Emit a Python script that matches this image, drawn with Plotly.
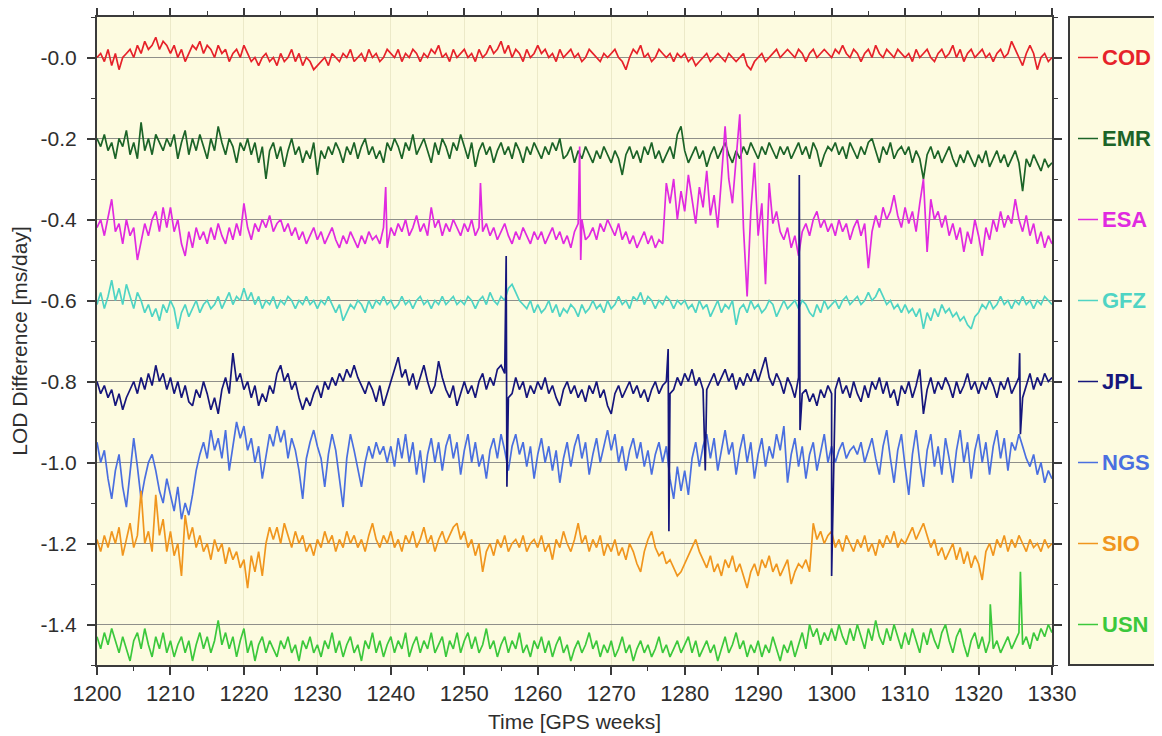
import numpy as np
import plotly.graph_objects as go

# ---------------- data ----------------
centers = ["COD", "EMR", "ESA", "GFZ", "JPL", "NGS", "SIO", "USN"]
levels = [0.0, -0.2, -0.4, -0.6, -0.8, -1.0, -1.2, -1.4]   # nominal level of each series (legend rows)
colors = ["#e6222a", "#1c6428", "#e02ae0", "#4fd4c4", "#16167c", "#4a6fe0", "#f0961e", "#3cc83c"]

start_week = 1200.0
step_week = 0.5
x_ticks = [1200, 1210, 1220, 1230, 1240, 1250, 1260, 1270, 1280, 1290, 1300, 1310, 1320, 1330]
y_ticks = [0.0, -0.2, -0.4, -0.6, -0.8, -1.0, -1.2, -1.4]
y_ticktext = ["-0.0", "-0.2", "-0.4", "-0.6", "-0.8", "-1.0", "-1.2", "-1.4"]
y_minor = [0.1, -0.1, -0.3, -0.5, -0.7, -0.9, -1.1, -1.3, -1.5]

cod = [
    0.00, 0.01, -0.01, 0.02, -0.02, 0.01, -0.03, 0.00, 0.01, 0.02, 0.00, 0.03, 0.01, 0.04, 0.02, 0.03, 0.05, 0.02, 0.04, 0.03,
    0.01, 0.03, 0.00, 0.02, -0.01, 0.01, 0.03, 0.02, 0.04, 0.01, 0.03, 0.02, 0.00, 0.03, 0.01, 0.02, -0.01, 0.01, 0.02, 0.00,
    0.03, 0.01, -0.01, 0.00, -0.02, 0.00, 0.01, -0.01, 0.00, -0.02, 0.01, -0.01, 0.00, 0.02, -0.01, 0.01, -0.02, 0.00, -0.01, -0.03,
    -0.02, -0.01, 0.00, -0.02, 0.01, 0.00, -0.01, 0.01, 0.00, 0.02, -0.01, 0.00, 0.01, -0.01, 0.02, 0.00, 0.01, -0.01, 0.00, 0.02,
    0.01, 0.00, 0.02, -0.01, 0.01, 0.00, 0.02, 0.01, -0.01, 0.01, 0.00, 0.02, 0.01, 0.03, 0.00, 0.01, -0.01, 0.02, 0.00, 0.01,
    0.02, 0.00, 0.01, -0.01, 0.02, 0.00, 0.01, 0.03, 0.01, 0.02, 0.04, 0.01, 0.03, 0.00, 0.02, 0.01, -0.01, 0.02, 0.00, 0.01,
    0.03, 0.01, 0.02, 0.00, 0.01, -0.01, 0.02, 0.00, 0.01, 0.02, 0.00, 0.01, -0.01, 0.00, 0.02, 0.01, 0.00, -0.01, 0.01, 0.00,
    0.01, 0.02, 0.00, -0.01, -0.03, 0.00, 0.02, 0.01, 0.03, 0.00, 0.01, -0.01, 0.00, 0.02, 0.01, 0.00, 0.01, -0.01, 0.01, 0.00,
    0.01, -0.01, 0.00, -0.02, -0.01, 0.00, 0.01, -0.01, 0.00, 0.01, 0.00, -0.01, 0.01, 0.00, -0.01, 0.00, 0.01, -0.02, -0.03, -0.01,
    0.00, 0.01, -0.01, 0.00, 0.01, 0.02, 0.00, 0.01, 0.02, 0.01, 0.00, 0.02, 0.01, -0.01, 0.01, 0.02, 0.00, 0.01, 0.02, 0.01,
    0.00, 0.02, 0.01, 0.03, 0.01, 0.00, 0.02, 0.01, -0.01, 0.01, 0.02, 0.00, 0.03, 0.01, 0.00, 0.02, 0.01, 0.00, 0.02, 0.01,
    0.00, 0.01, -0.01, 0.02, 0.00, 0.01, 0.02, 0.00, -0.01, 0.01, 0.02, 0.00, 0.01, 0.03, 0.00, 0.02, -0.01, 0.01, 0.02, 0.00,
    0.01, 0.02, 0.00, 0.01, -0.01, 0.01, 0.02, 0.00, 0.01, 0.04, 0.02, 0.00, -0.02, 0.01, 0.03, 0.01, -0.03, 0.00, 0.01, -0.01,
    0.00,
]

emr = [
    -0.20, -0.22, -0.19, -0.23, -0.21, -0.25, -0.20, -0.22, -0.18, -0.24, -0.21, -0.25, -0.16, -0.23, -0.20, -0.24, -0.19, -0.21, -0.23, -0.20,
    -0.22, -0.19, -0.25, -0.21, -0.18, -0.24, -0.20, -0.23, -0.19, -0.22, -0.25, -0.20, -0.23, -0.17, -0.21, -0.24, -0.20, -0.22, -0.26, -0.21,
    -0.23, -0.20, -0.24, -0.21, -0.26, -0.22, -0.30, -0.23, -0.21, -0.25, -0.22, -0.27, -0.23, -0.20, -0.24, -0.22, -0.26, -0.23, -0.25, -0.21,
    -0.29, -0.23, -0.25, -0.22, -0.24, -0.21, -0.23, -0.26, -0.22, -0.24, -0.21, -0.25, -0.22, -0.20, -0.24, -0.22, -0.25, -0.23, -0.26, -0.21,
    -0.23, -0.20, -0.22, -0.25, -0.21, -0.23, -0.19, -0.24, -0.22, -0.20, -0.23, -0.26, -0.21, -0.24, -0.20, -0.22, -0.25, -0.21, -0.23, -0.19,
    -0.22, -0.25, -0.21, -0.27, -0.23, -0.21, -0.24, -0.22, -0.26, -0.23, -0.21, -0.24, -0.22, -0.25, -0.21, -0.23, -0.26, -0.22, -0.24, -0.21,
    -0.23, -0.25, -0.22, -0.24, -0.21, -0.23, -0.20, -0.25, -0.24, -0.22, -0.26, -0.23, -0.25, -0.22, -0.24, -0.26, -0.23, -0.25, -0.22, -0.24,
    -0.26, -0.23, -0.25, -0.29, -0.24, -0.22, -0.25, -0.23, -0.26, -0.22, -0.24, -0.21, -0.25, -0.23, -0.26, -0.24, -0.22, -0.25, -0.19, -0.17,
    -0.23, -0.26, -0.24, -0.22, -0.25, -0.23, -0.27, -0.24, -0.22, -0.25, -0.23, -0.21, -0.24, -0.26, -0.23, -0.25, -0.22, -0.24, -0.21, -0.23,
    -0.25, -0.22, -0.24, -0.21, -0.23, -0.25, -0.22, -0.24, -0.22, -0.25, -0.23, -0.21, -0.24, -0.22, -0.25, -0.21, -0.23, -0.27, -0.24, -0.22,
    -0.23, -0.21, -0.24, -0.22, -0.25, -0.21, -0.23, -0.25, -0.22, -0.24, -0.21, -0.20, -0.23, -0.26, -0.22, -0.24, -0.21, -0.25, -0.23, -0.22,
    -0.24, -0.22, -0.26, -0.23, -0.25, -0.30, -0.24, -0.22, -0.25, -0.23, -0.26, -0.24, -0.22, -0.25, -0.27, -0.24, -0.26, -0.23, -0.25, -0.27,
    -0.24, -0.26, -0.23, -0.27, -0.25, -0.23, -0.26, -0.24, -0.27, -0.25, -0.23, -0.26, -0.33, -0.25, -0.27, -0.24, -0.26, -0.28, -0.25, -0.27,
    -0.26,
]

esa = [
    -0.42, -0.40, -0.44, -0.39, -0.35, -0.43, -0.41, -0.46, -0.40, -0.44, -0.42, -0.50, -0.45, -0.41, -0.44, -0.40, -0.38, -0.43, -0.37, -0.42,
    -0.37, -0.43, -0.40, -0.46, -0.49, -0.43, -0.47, -0.42, -0.45, -0.43, -0.46, -0.42, -0.45, -0.41, -0.44, -0.46, -0.42, -0.45, -0.41, -0.44,
    -0.36, -0.42, -0.45, -0.41, -0.43, -0.40, -0.42, -0.39, -0.43, -0.41, -0.40, -0.43, -0.41, -0.44, -0.42, -0.45, -0.43, -0.46, -0.44, -0.42,
    -0.45, -0.43, -0.46, -0.44, -0.42, -0.45, -0.47, -0.44, -0.46, -0.43, -0.45, -0.47, -0.44, -0.46, -0.43, -0.45, -0.44, -0.46, -0.42, -0.47,
    -0.42, -0.44, -0.41, -0.43, -0.40, -0.44, -0.42, -0.39, -0.43, -0.41, -0.44, -0.37, -0.42, -0.40, -0.44, -0.41, -0.43, -0.40, -0.42, -0.44,
    -0.41, -0.43, -0.40, -0.44, -0.42, -0.43, -0.41, -0.44, -0.42, -0.45, -0.43, -0.41, -0.44, -0.46, -0.43, -0.45, -0.42, -0.44, -0.46, -0.43,
    -0.45, -0.43, -0.46, -0.44, -0.42, -0.45, -0.43, -0.46, -0.44, -0.47, -0.43, -0.41, -0.40, -0.45, -0.44, -0.42, -0.45, -0.41, -0.43, -0.40,
    -0.42, -0.44, -0.41, -0.45, -0.43, -0.46, -0.44, -0.47, -0.45, -0.43, -0.46, -0.44, -0.47, -0.45, -0.46, -0.31, -0.36, -0.30, -0.40, -0.33,
    -0.38, -0.29, -0.35, -0.41, -0.32, -0.37, -0.28, -0.39, -0.34, -0.42, -0.30, -0.17, -0.30, -0.36, -0.25, -0.14, -0.42, -0.59, -0.38, -0.26,
    -0.44, -0.36, -0.56, -0.31, -0.41, -0.38, -0.43, -0.45, -0.42, -0.47, -0.44, -0.49, -0.43, -0.41, -0.44, -0.40, -0.38, -0.42, -0.40, -0.43,
    -0.41, -0.44, -0.40, -0.43, -0.41, -0.45, -0.42, -0.40, -0.44, -0.41, -0.52, -0.43, -0.39, -0.42, -0.37, -0.40, -0.38, -0.34, -0.39, -0.42,
    -0.37, -0.41, -0.38, -0.43, -0.36, -0.30, -0.48, -0.35, -0.40, -0.38, -0.42, -0.39, -0.44, -0.41, -0.45, -0.42, -0.48, -0.43, -0.46, -0.40,
    -0.44, -0.49, -0.42, -0.45, -0.40, -0.43, -0.38, -0.42, -0.39, -0.41, -0.35, -0.40, -0.43, -0.39, -0.44, -0.41, -0.46, -0.43, -0.47, -0.44,
    -0.46,
]

gfz = [
    -0.61, -0.58, -0.62, -0.59, -0.55, -0.60, -0.57, -0.61, -0.56, -0.59, -0.62, -0.58, -0.60, -0.63, -0.61, -0.64, -0.62, -0.65, -0.61, -0.63,
    -0.60, -0.62, -0.67, -0.63, -0.61, -0.64, -0.62, -0.60, -0.63, -0.61, -0.60, -0.62, -0.61, -0.59, -0.62, -0.60, -0.58, -0.61, -0.59, -0.60,
    -0.57, -0.60, -0.58, -0.61, -0.59, -0.62, -0.60, -0.61, -0.59, -0.62, -0.60, -0.61, -0.59, -0.60, -0.62, -0.60, -0.61, -0.59, -0.61, -0.60,
    -0.62, -0.60, -0.61, -0.59, -0.61, -0.63, -0.61, -0.65, -0.63, -0.61, -0.62, -0.60, -0.61, -0.63, -0.60, -0.62, -0.60, -0.61, -0.59, -0.61,
    -0.60, -0.62, -0.61, -0.59, -0.61, -0.60, -0.62, -0.60, -0.59, -0.61, -0.60, -0.62, -0.60, -0.61, -0.59, -0.61, -0.60, -0.59, -0.61, -0.60,
    -0.61, -0.59, -0.60, -0.62, -0.60, -0.59, -0.61, -0.58, -0.60, -0.61, -0.59, -0.60, -0.57, -0.56, -0.58, -0.60, -0.61, -0.62, -0.60, -0.63,
    -0.61, -0.63, -0.62, -0.60, -0.63, -0.61, -0.64, -0.62, -0.63, -0.61, -0.62, -0.64, -0.61, -0.63, -0.62, -0.60, -0.62, -0.61, -0.63, -0.60,
    -0.62, -0.61, -0.59, -0.61, -0.60, -0.62, -0.59, -0.60, -0.58, -0.61, -0.59, -0.60, -0.62, -0.60, -0.61, -0.59, -0.60, -0.62, -0.60, -0.61,
    -0.60, -0.62, -0.61, -0.63, -0.60, -0.62, -0.61, -0.64, -0.62, -0.60, -0.63, -0.61, -0.62, -0.60, -0.66, -0.62, -0.61, -0.63, -0.60, -0.62,
    -0.61, -0.63, -0.62, -0.60, -0.61, -0.64, -0.62, -0.60, -0.62, -0.61, -0.60, -0.62, -0.60, -0.61, -0.63, -0.64, -0.61, -0.63, -0.60, -0.62,
    -0.61, -0.60, -0.62, -0.60, -0.59, -0.61, -0.60, -0.59, -0.61, -0.60, -0.58, -0.60, -0.59, -0.57, -0.59, -0.61, -0.60, -0.62, -0.61, -0.63,
    -0.61, -0.63, -0.62, -0.64, -0.62, -0.67, -0.63, -0.65, -0.62, -0.64, -0.61, -0.63, -0.62, -0.64, -0.63, -0.65, -0.64, -0.66, -0.67, -0.64,
    -0.63, -0.61, -0.62, -0.60, -0.62, -0.61, -0.59, -0.61, -0.60, -0.62, -0.60, -0.61, -0.59, -0.61, -0.60, -0.62, -0.60, -0.61, -0.59, -0.60,
    -0.61,
]

jpl = [
    -0.80, -0.83, -0.81, -0.84, -0.82, -0.86, -0.83, -0.87, -0.84, -0.82, -0.80, -0.83, -0.79, -0.82, -0.78, -0.81, -0.76, -0.80, -0.78, -0.82,
    -0.79, -0.83, -0.80, -0.84, -0.81, -0.85, -0.86, -0.82, -0.84, -0.80, -0.83, -0.87, -0.84, -0.88, -0.82, -0.79, -0.83, -0.73, -0.80, -0.78,
    -0.82, -0.80, -0.84, -0.81, -0.86, -0.83, -0.85, -0.81, -0.83, -0.78, -0.76, -0.80, -0.78, -0.82, -0.80, -0.84, -0.87, -0.84, -0.86, -0.83,
    -0.81, -0.84, -0.80, -0.82, -0.79, -0.81, -0.78, -0.80, -0.77, -0.79, -0.76, -0.79, -0.81, -0.83, -0.80, -0.82, -0.85, -0.81, -0.86, -0.83,
    -0.80, -0.77, -0.74, -0.79, -0.77, -0.81, -0.78, -0.82, -0.79, -0.76, -0.80, -0.83, -0.81, -0.75, -0.79, -0.82, -0.84, -0.81, -0.86, -0.83,
    -0.80, -0.83, -0.81, -0.84, -0.80, -0.78, -0.82, -0.79, -0.81, -0.77, -0.76, -0.78, -0.84, -0.83, -0.79, -0.82, -0.80, -0.84, -0.81, -0.83,
    -0.80, -0.82, -0.79, -0.83, -0.81, -0.84, -0.86, -0.82, -0.80, -0.83, -0.81, -0.84, -0.82, -0.85, -0.81, -0.83, -0.80, -0.84, -0.82, -0.86,
    -0.88, -0.83, -0.81, -0.84, -0.82, -0.80, -0.83, -0.81, -0.84, -0.82, -0.85, -0.82, -0.80, -0.83, -0.81, -0.80, -0.83, -0.82, -0.79, -0.81,
    -0.78, -0.80, -0.77, -0.81, -0.79, -0.82, -0.82, -0.80, -0.78, -0.81, -0.79, -0.77, -0.80, -0.78, -0.82, -0.79, -0.81, -0.78, -0.80, -0.77,
    -0.80, -0.77, -0.74, -0.79, -0.81, -0.78, -0.80, -0.83, -0.79, -0.81, -0.84, -0.79, -0.83, -0.82, -0.85, -0.83, -0.86, -0.82, -0.84, -0.81,
    -0.83, -0.82, -0.79, -0.83, -0.81, -0.84, -0.80, -0.83, -0.85, -0.81, -0.84, -0.80, -0.82, -0.79, -0.83, -0.80, -0.84, -0.82, -0.86, -0.81,
    -0.83, -0.80, -0.84, -0.81, -0.77, -0.88, -0.82, -0.79, -0.83, -0.80, -0.82, -0.79, -0.81, -0.84, -0.80, -0.83, -0.81, -0.78, -0.82, -0.80,
    -0.83, -0.80, -0.82, -0.79, -0.81, -0.84, -0.80, -0.82, -0.79, -0.83, -0.81, -0.79, -0.84, -0.81, -0.78, -0.82, -0.79, -0.81, -0.78, -0.80,
    -0.79,
]

ngs = [
    -0.95, -1.00, -0.97, -1.04, -1.09, -1.02, -0.98, -1.06, -1.11, -1.03, -0.94, -1.01, -1.09, -1.04, -1.00, -0.98, -1.02, -1.07, -1.10, -1.04,
    -1.08, -1.12, -1.06, -1.14, -1.10, -1.13, -1.08, -1.02, -0.98, -0.95, -0.99, -0.92, -0.97, -0.94, -0.99, -0.92, -1.02, -0.96, -0.90, -0.94,
    -0.91, -0.97, -0.94, -1.00, -0.96, -1.04, -0.98, -0.93, -0.96, -0.91, -0.95, -0.92, -0.99, -0.94, -0.97, -1.02, -1.09, -0.99, -0.95, -0.92,
    -0.96, -0.99, -1.06, -0.98, -0.93, -0.97, -1.04, -1.11, -0.99, -0.93, -0.97, -1.02, -1.06, -1.00, -0.96, -0.99, -0.95, -0.98, -0.96, -1.00,
    -0.96, -1.01, -0.94, -0.99, -0.93, -1.00, -0.95, -1.03, -0.97, -1.05, -0.98, -0.94, -1.00, -0.95, -1.02, -0.96, -0.93, -0.99, -0.95, -1.03,
    -0.97, -0.93, -1.00, -0.95, -1.01, -0.98, -1.04, -0.97, -0.94, -0.99, -0.93, -0.97, -1.02, -0.96, -0.93, -0.98, -0.95, -1.01, -0.96, -1.04,
    -0.98, -0.94, -1.00, -0.96, -1.02, -0.97, -1.05, -0.99, -0.95, -1.01, -0.96, -0.93, -0.99, -0.95, -1.03, -0.98, -0.94, -1.00, -0.96, -0.92,
    -0.97, -0.93, -1.00, -0.96, -1.02, -0.97, -0.94, -0.99, -0.95, -1.01, -0.97, -1.03, -0.98, -0.95, -1.00, -0.96, -1.04, -1.09, -1.01, -1.07,
    -1.02, -1.08, -0.99, -0.95, -1.01, -0.96, -0.93, -0.99, -0.94, -1.02, -0.97, -0.92, -0.98, -0.95, -1.03, -0.97, -0.93, -1.00, -0.95, -1.04,
    -0.98, -0.94, -1.01, -0.96, -0.99, -0.93, -0.97, -0.91, -1.05, -0.98, -0.94, -1.01, -0.96, -1.04, -0.98, -0.95, -1.02, -0.97, -0.93, -1.00,
    -0.96, -1.00, -0.97, -0.95, -0.99, -0.97, -0.96, -0.98, -0.95, -1.00, -0.97, -0.94, -0.99, -1.03, -0.96, -0.92, -0.99, -1.05, -0.97, -0.93,
    -1.01, -1.08, -0.98, -0.92, -1.00, -1.06, -0.97, -0.93, -1.01, -0.96, -1.03, -0.94, -0.99, -1.05, -0.97, -0.92, -1.00, -0.95, -1.04, -0.97,
    -0.93, -1.00, -0.95, -1.03, -0.96, -0.92, -0.99, -0.94, -1.02, -0.95, -0.97, -0.93, -0.96, -0.99, -1.01, -0.98, -1.03, -1.00, -1.05, -1.02,
    -1.04,
]

sio = [
    -1.19, -1.22, -1.18, -1.21, -1.17, -1.20, -1.16, -1.23, -1.19, -1.15, -1.21, -1.18, -1.07, -1.20, -1.17, -1.22, -1.08, -1.18, -1.14, -1.22,
    -1.17, -1.23, -1.20, -1.28, -1.13, -1.19, -1.16, -1.21, -1.18, -1.22, -1.20, -1.24, -1.19, -1.22, -1.20, -1.25, -1.21, -1.24, -1.22, -1.26,
    -1.24, -1.31, -1.23, -1.27, -1.22, -1.28, -1.20, -1.16, -1.19, -1.16, -1.20, -1.15, -1.18, -1.21, -1.17, -1.20, -1.18, -1.22, -1.20, -1.23,
    -1.19, -1.21, -1.17, -1.20, -1.18, -1.22, -1.19, -1.21, -1.17, -1.20, -1.18, -1.21, -1.19, -1.22, -1.18, -1.15, -1.19, -1.21, -1.18, -1.20,
    -1.17, -1.21, -1.19, -1.22, -1.18, -1.20, -1.17, -1.21, -1.19, -1.16, -1.20, -1.18, -1.22, -1.19, -1.17, -1.20, -1.18, -1.16, -1.15, -1.19,
    -1.17, -1.21, -1.19, -1.23, -1.20, -1.27, -1.22, -1.20, -1.23, -1.19, -1.21, -1.18, -1.22, -1.20, -1.19, -1.21, -1.18, -1.22, -1.20, -1.19,
    -1.21, -1.18, -1.22, -1.20, -1.24, -1.19, -1.21, -1.17, -1.20, -1.22, -1.19, -1.15, -1.20, -1.18, -1.22, -1.19, -1.21, -1.18, -1.23, -1.20,
    -1.22, -1.19, -1.23, -1.21, -1.24, -1.20, -1.22, -1.25, -1.27, -1.22, -1.19, -1.17, -1.21, -1.23, -1.22, -1.25, -1.24, -1.26, -1.28, -1.27,
    -1.25, -1.23, -1.21, -1.19, -1.22, -1.24, -1.26, -1.23, -1.27, -1.25, -1.28, -1.24, -1.26, -1.23, -1.27, -1.25, -1.28, -1.31, -1.27, -1.25,
    -1.28, -1.24, -1.26, -1.23, -1.27, -1.25, -1.28, -1.26, -1.24, -1.30, -1.27, -1.25, -1.26, -1.24, -1.27, -1.15, -1.19, -1.17, -1.20, -1.18,
    -1.17, -1.21, -1.19, -1.22, -1.18, -1.20, -1.22, -1.19, -1.21, -1.18, -1.22, -1.20, -1.23, -1.19, -1.21, -1.18, -1.20, -1.17, -1.21, -1.19,
    -1.20, -1.18, -1.16, -1.19, -1.17, -1.15, -1.18, -1.21, -1.19, -1.23, -1.21, -1.24, -1.22, -1.20, -1.24, -1.21, -1.25, -1.22, -1.26, -1.23,
    -1.25, -1.29, -1.22, -1.20, -1.23, -1.19, -1.21, -1.18, -1.22, -1.19, -1.21, -1.18, -1.20, -1.22, -1.19, -1.21, -1.20, -1.22, -1.19, -1.21,
    -1.20,
]

usn = [
    -1.43, -1.46, -1.42, -1.45, -1.41, -1.44, -1.47, -1.43, -1.46, -1.49, -1.44, -1.42, -1.46, -1.41, -1.45, -1.48, -1.43, -1.46, -1.42, -1.47,
    -1.44, -1.48, -1.45, -1.43, -1.47, -1.44, -1.49, -1.45, -1.42, -1.46, -1.43, -1.47, -1.44, -1.39, -1.45, -1.42, -1.46, -1.43, -1.48, -1.44,
    -1.41, -1.47, -1.44, -1.49, -1.45, -1.43, -1.47, -1.44, -1.46, -1.48, -1.44, -1.46, -1.43, -1.47, -1.45, -1.49, -1.44, -1.46, -1.43, -1.47,
    -1.45, -1.48, -1.44, -1.46, -1.42, -1.47, -1.44, -1.48, -1.45, -1.43, -1.47, -1.45, -1.49, -1.44, -1.46, -1.42, -1.47, -1.44, -1.48, -1.45,
    -1.43, -1.47, -1.44, -1.46, -1.42, -1.48, -1.45, -1.43, -1.47, -1.44, -1.46, -1.42, -1.47, -1.45, -1.43, -1.48, -1.44, -1.46, -1.42, -1.47,
    -1.44, -1.42, -1.46, -1.43, -1.47, -1.45, -1.41, -1.46, -1.44, -1.48, -1.45, -1.43, -1.47, -1.44, -1.46, -1.42, -1.47, -1.45, -1.48, -1.44,
    -1.46, -1.43, -1.47, -1.44, -1.48, -1.45, -1.43, -1.47, -1.45, -1.49, -1.46, -1.44, -1.47, -1.45, -1.42, -1.46, -1.44, -1.48, -1.45, -1.47,
    -1.44, -1.48, -1.46, -1.43, -1.47, -1.45, -1.49, -1.46, -1.44, -1.47, -1.45, -1.48, -1.46, -1.43, -1.47, -1.45, -1.48, -1.46, -1.44, -1.47,
    -1.45, -1.43, -1.47, -1.44, -1.48, -1.46, -1.44, -1.47, -1.45, -1.49, -1.46, -1.43, -1.47, -1.45, -1.42, -1.46, -1.44, -1.48, -1.45, -1.47,
    -1.44, -1.48, -1.45, -1.47, -1.43, -1.46, -1.49, -1.45, -1.47, -1.44, -1.48, -1.45, -1.42, -1.46, -1.40, -1.43, -1.41, -1.45, -1.42, -1.44,
    -1.41, -1.44, -1.40, -1.43, -1.45, -1.41, -1.44, -1.40, -1.43, -1.46, -1.41, -1.44, -1.39, -1.43, -1.45, -1.41, -1.44, -1.40, -1.43, -1.46,
    -1.42, -1.45, -1.41, -1.44, -1.47, -1.42, -1.45, -1.41, -1.44, -1.46, -1.42, -1.40, -1.44, -1.47, -1.43, -1.41, -1.45, -1.48, -1.44, -1.42,
    -1.46, -1.43, -1.47, -1.44, -1.46, -1.44, -1.47, -1.45, -1.43, -1.46, -1.44, -1.42, -1.45, -1.43, -1.46, -1.42, -1.44, -1.41, -1.43, -1.40,
    -1.42,
]

# isolated one-day outliers (GPS week, value)
esa_spike_weeks = [1239.3, 1252.2, 1265.7, 1265.85]
esa_spike_vals = [-0.32, -0.31, -0.22, -0.50]
jpl_spike_weeks = [1255.7, 1255.8, 1277.75, 1277.85, 1282.8, 1295.6, 1295.7, 1300.0, 1325.6, 1325.7]
jpl_spike_vals = [-0.49, -1.06, -0.72, -1.17, -1.02, -0.29, -0.92, -1.28, -0.73, -0.93]
usn_spike_weeks = [1321.6, 1325.7]
usn_spike_vals = [-1.35, -1.27]

series = {"COD": cod, "EMR": emr, "ESA": esa, "GFZ": gfz, "JPL": jpl, "NGS": ngs, "SIO": sio, "USN": usn}
spikes = {"ESA": (esa_spike_weeks, esa_spike_vals),
          "JPL": (jpl_spike_weeks, jpl_spike_vals),
          "USN": (usn_spike_weeks, usn_spike_vals)}

# ---------------- figure ----------------
BG = "#fdfbe0"
FRAME = "#3a3a3a"
TXT = "#2e2e2e"
FONT = "Liberation Sans, Arial, Helvetica, sans-serif"

fig = go.Figure()
draw_order = ["COD", "EMR", "ESA", "GFZ", "NGS", "SIO", "USN", "JPL"]
for name in draw_order:
    vals = np.array(series[name], dtype=float)
    weeks = start_week + step_week * np.arange(len(vals))
    if name in spikes:
        sw, sv = spikes[name]
        weeks = np.concatenate([weeks, np.array(sw)])
        vals = np.concatenate([vals, np.array(sv)])
        order = np.argsort(weeks, kind="stable")
        weeks, vals = weeks[order], vals[order]
    c = colors[centers.index(name)]
    fig.add_trace(go.Scatter(x=weeks, y=vals, mode="lines", name=name,
                             line=dict(color=c, width=1.7), showlegend=False,
                             hoverinfo="skip"))

# the page body has an 8px margin, so the figure is sized to fill the rest of the window
PAGE_PAD = 8
FIG_W, FIG_H = 1162 - PAGE_PAD, 736 - PAGE_PAD
L, T, B = 97 - PAGE_PAD, 17 - PAGE_PAD, 71
plot_w = FIG_W - L
main_right = (1052 - PAGE_PAD - L) / plot_w

def px_to_paper(px):
    return (px - PAGE_PAD - L) / plot_w

fig.update_layout(
    width=FIG_W, height=FIG_H,
    margin=dict(l=L, r=0, t=T, b=B, autoexpand=False),
    paper_bgcolor="white",
    plot_bgcolor=BG,
    showlegend=False,
    font=dict(family=FONT, color=TXT),
    xaxis=dict(
        domain=[0, main_right],
        range=[x_ticks[0], x_ticks[-1]],
        tickmode="array", tickvals=x_ticks,
        ticks="outside", ticklen=8, tickwidth=1.5, tickcolor=FRAME,
        minor=dict(tickmode="linear", tick0=1205, dtick=10, ticks="outside",
                   ticklen=4, tickwidth=1.2, tickcolor=FRAME, showgrid=False),
        showline=True, linecolor=FRAME, linewidth=2, mirror="allticks",
        showgrid=True, gridcolor="rgba(215,210,170,0.45)", gridwidth=1,
        zeroline=False, automargin=False,
        tickfont=dict(size=22, color=TXT),
        title=dict(text="Time [GPS weeks]", font=dict(size=21, color=TXT), standoff=9),
    ),
    yaxis=dict(
        range=[-1.5, 0.1],
        tickmode="array", tickvals=y_ticks, ticktext=y_ticktext,
        ticks="outside", ticklen=8, tickwidth=1.5, tickcolor=FRAME,
        ticklabelstandoff=6,
        minor=dict(tickmode="array", tickvals=y_minor, ticks="outside",
                   ticklen=4, tickwidth=1.2, tickcolor=FRAME, showgrid=False),
        showline=True, linecolor=FRAME, linewidth=2, mirror="allticks",
        showgrid=True, gridcolor="#8f8f8a", gridwidth=1,
        zeroline=False, automargin=False,
        tickfont=dict(size=21, color=TXT),
        title=dict(text="LOD Difference [ms/day]", font=dict(size=21, color=TXT), standoff=8),
    ),
)

# legend panel on the right
fig.add_shape(type="rect", xref="paper", yref="paper", x0=px_to_paper(1069), x1=1.05, y0=0, y1=1,
              fillcolor=BG, line=dict(color=FRAME, width=2), layer="below")
for name, lvl, c in zip(centers, levels, colors):
    fig.add_shape(type="line", xref="paper", yref="y", x0=px_to_paper(1078), x1=px_to_paper(1098),
                  y0=lvl, y1=lvl, line=dict(color=c, width=1.5))
    fig.add_annotation(xref="paper", yref="y", x=px_to_paper(1100), y=lvl, text="<b>%s</b>" % name,
                       showarrow=False, xanchor="left", yanchor="middle",
                       font=dict(size=22, color=c, family=FONT))

fig.write_html("out.html")
